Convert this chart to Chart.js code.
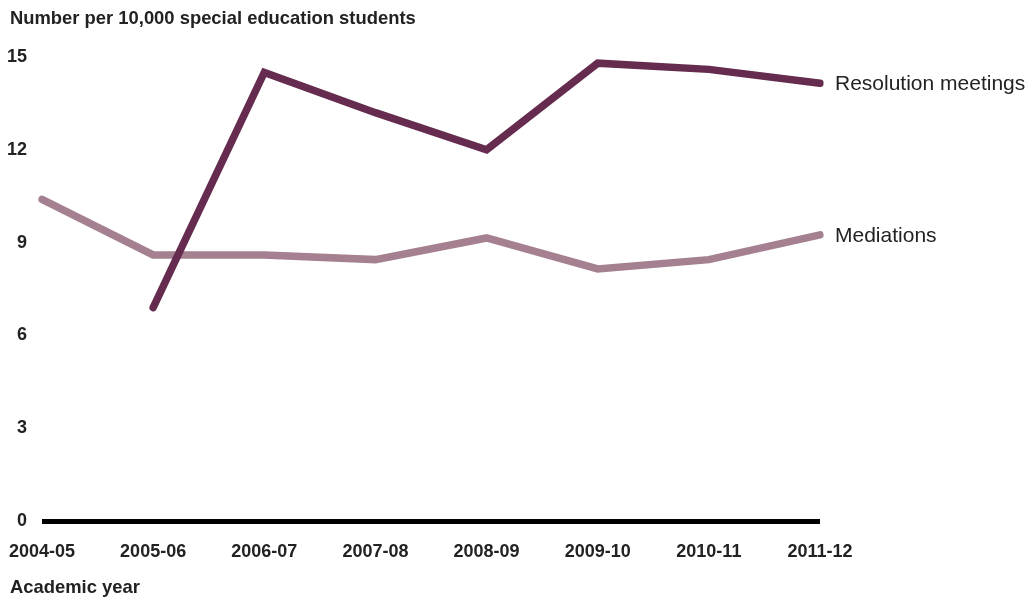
<!DOCTYPE html>
<html>
<head>
<meta charset="utf-8">
<script src="https://cdn.jsdelivr.net/npm/chart.js@4/dist/chart.umd.min.js"></script>
<style>
  html, body { margin: 0; padding: 0; background: #fff; }
  #wrap { width: 1027px; height: 598px; position: relative; }
</style>
</head>
<body>
<div id="wrap"><canvas id="chart" width="1027" height="598"></canvas></div>
<script>
// Academic years on the x axis
var years = ['2004-05', '2005-06', '2006-07', '2007-08', '2008-09', '2009-10', '2010-11', '2011-12'];

// Rates per 10,000 special education students
var resolutionMeetings = [null, 6.9, 14.5, 13.2, 12.0, 14.8, 14.6, 14.15];
var mediations = [10.4, 8.6, 8.6, 8.45, 9.15, 8.15, 8.45, 9.25];

var yTicks = [0, 3, 6, 9, 12, 15];

var darkPlum = '#652c4f';
var lightPlum = '#a58090';
var textColor = '#222222';
var fontFamily = '"Liberation Sans", Arial, sans-serif';

// Titles and end-of-line series labels
var labelPlugin = {
    id: 'labels',
    afterDraw: function (chart) {
        var ctx = chart.ctx;
        ctx.save();
        ctx.fillStyle = textColor;
        ctx.textBaseline = 'middle';
        ctx.textAlign = 'left';
        ctx.font = 'bold 18.4px ' + fontFamily;
        ctx.fillText('Number per 10,000 special education students', 10, 19);
        ctx.fillText('Academic year', 10, 588);

        ctx.font = '21px ' + fontFamily;
        chart.data.datasets.forEach(function (ds, i) {
            var meta = chart.getDatasetMeta(i);
            var last = meta.data[meta.data.length - 1];
            ctx.fillText(ds.label, last.x + 15, last.y + 1);
        });
        ctx.restore();
    }
};

var ctx = document.getElementById('chart').getContext('2d');
new Chart(ctx, {
    type: 'line',
    data: {
        labels: years,
        datasets: [{
            label: 'Resolution meetings',
            data: resolutionMeetings,
            borderColor: darkPlum,
            borderWidth: 7.5,
            borderCapStyle: 'round',
            borderJoinStyle: 'miter',
            pointRadius: 0,
            tension: 0
        }, {
            label: 'Mediations',
            data: mediations,
            borderColor: lightPlum,
            borderWidth: 7.5,
            borderCapStyle: 'round',
            borderJoinStyle: 'miter',
            pointRadius: 0,
            tension: 0
        }]
    },
    options: {
        responsive: false,
        animation: false,
        layout: { padding: { top: 57, right: 207, left: 0, bottom: 0 } },
        plugins: {
            legend: { display: false },
            tooltip: { enabled: false }
        },
        scales: {
            x: {
                offset: false,
                grid: { display: false },
                border: { display: false },
                ticks: {
                    color: textColor,
                    padding: 12,
                    maxRotation: 0,
                    autoSkip: false,
                    font: { family: fontFamily, size: 18, weight: 'bold' }
                },
                afterFit: function (scale) {
                    scale.height = 77;
                    scale.paddingLeft = 0;
                    scale.paddingRight = 0;
                }
            },
            y: {
                min: 0,
                max: 15,
                afterBuildTicks: function (scale) {
                    scale.ticks = yTicks.map(function (v) { return { value: v }; });
                },
                grid: {
                    drawTicks: false,
                    color: function (c) { return c.tick && c.tick.value === 0 ? '#000' : 'rgba(0,0,0,0)'; },
                    lineWidth: function (c) { return c.tick && c.tick.value === 0 ? 5 : 0; }
                },
                border: { display: false },
                ticks: {
                    color: textColor,
                    padding: 15,
                    font: { family: fontFamily, size: 18, weight: 'bold' }
                },
                afterFit: function (scale) { scale.width = 42; }
            }
        }
    },
    plugins: [labelPlugin]
});
</script>
</body>
</html>
